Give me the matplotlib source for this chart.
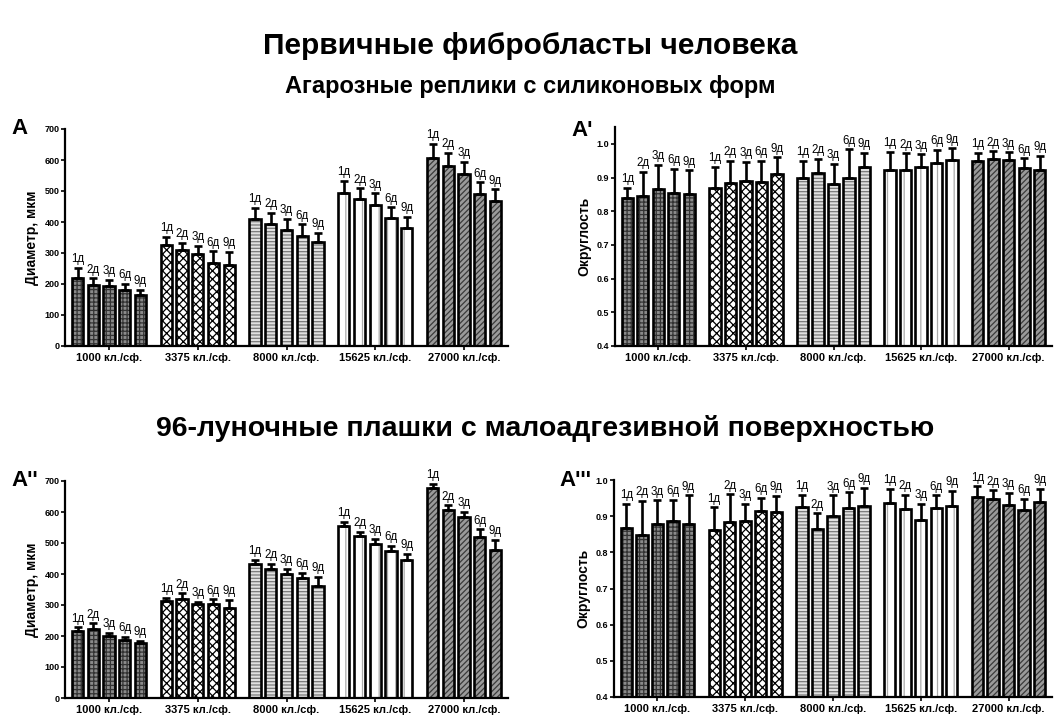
import numpy as np
import matplotlib
matplotlib.use("Agg")
import matplotlib.pyplot as plt

plt.rcParams['font.family'] = ['Liberation Sans', 'DejaVu Sans']
plt.rcParams['hatch.linewidth'] = 0.9

groups = ["1000 кл./сф.", "3375 кл./сф.", "8000 кл./сф.", "15625 кл./сф.", "27000 кл./сф."]
days = ["1д", "2д", "3д", "6д", "9д"]

# Panel A: diameter, agarose replicas
diam_agar = [[219, 197, 192, 182, 163], [325, 310, 296, 267, 262], [411, 395, 374, 354, 335],
             [495, 473, 456, 414, 382], [607, 581, 554, 490, 469]]
diam_agar_err = [[33, 21, 22, 18, 19], [27, 23, 28, 39, 41], [34, 35, 36, 38, 31],
                 [37, 36, 36, 34, 34], [45, 42, 41, 38, 37]]
# Panel A': roundness, agarose replicas
round_agar = [[0.839, 0.844, 0.866, 0.854, 0.850], [0.870, 0.883, 0.889, 0.888, 0.910],
              [0.899, 0.913, 0.882, 0.898, 0.930], [0.921, 0.921, 0.932, 0.942, 0.952],
              [0.950, 0.955, 0.952, 0.927, 0.923]]
round_agar_err = [[0.031, 0.073, 0.071, 0.071, 0.071], [0.061, 0.067, 0.058, 0.062, 0.050],
                  [0.051, 0.042, 0.059, 0.086, 0.044], [0.056, 0.051, 0.037, 0.041, 0.035],
                  [0.024, 0.023, 0.023, 0.030, 0.042]]
# Panel A'': diameter, 96-well plates
diam_plate = [[216, 221, 201, 188, 176], [313, 319, 302, 303, 289], [431, 416, 400, 386, 361],
              [555, 521, 497, 474, 446], [676, 607, 585, 518, 477]]
diam_plate_err = [[12, 20, 9, 9, 9], [11, 19, 8, 15, 28], [15, 17, 16, 17, 29],
                  [14, 15, 17, 17, 19], [15, 15, 15, 26, 33]]
# Panel A''': roundness, 96-well plates
round_plate = [[0.866, 0.849, 0.877, 0.888, 0.877], [0.861, 0.884, 0.887, 0.913, 0.912],
               [0.926, 0.864, 0.901, 0.922, 0.928], [0.936, 0.921, 0.889, 0.923, 0.928],
               [0.954, 0.947, 0.932, 0.917, 0.939]]
round_plate_err = [[0.069, 0.094, 0.067, 0.058, 0.081], [0.064, 0.077, 0.048, 0.038, 0.045],
                   [0.033, 0.044, 0.057, 0.044, 0.051], [0.039, 0.038, 0.046, 0.035, 0.042],
                   [0.029, 0.025, 0.033, 0.031, 0.037]]

# group styles: (facecolor, hatch, hatchcolor)
styles = [("#8a8a8a", "++++", "#333333"),
          ("white", "xxxx", "black"),
          ("#e0e0e0", "-----", "#7a7a7a"),
          ("white", "||", "#aaaaaa"),
          ("#9a9a9a", "//////", "#3a3a3a")]

W, H = 1055, 715
fig = plt.figure(figsize=(W / 100, H / 100), dpi=100)


def ax_at(l, t, r, b):
    return fig.add_axes([l / W, 1 - b / H, (r - l) / W, (b - t) / H])


GP = 5.65


def panel(ax, means, errs, ylim, yticks, yfmt, ylabel, letter, off):
    ymin, ymax = ylim
    span = ymax - ymin
    for g in range(5):
        fc, hatch, hc = styles[g]
        for j in range(5):
            x = g * GP + j
            m = means[g][j]
            e = errs[g][j]
            ax.bar(x, m - ymin, bottom=ymin, width=0.72, color=fc, hatch=hatch,
                   edgecolor=hc, linewidth=0, zorder=2)
            ax.bar(x, m - ymin, bottom=ymin, width=0.72, fill=False,
                   edgecolor="black", linewidth=1.9, zorder=3)
            ax.errorbar(x, m, yerr=[[0], [e]], fmt="none", ecolor="black",
                        elinewidth=1.9, capsize=3.2, capthick=1.9, zorder=4)
            ax.text(x, m + e + span * 0.012, days[j], ha="center", va="bottom",
                    fontsize=8.3, zorder=5)
    ax.set_xlim(-0.8, 4 * GP + 4.8)
    ax.set_ylim(ymin, ymax)
    ax.set_yticks(yticks)
    ax.set_yticklabels([yfmt(v) for v in yticks], fontsize=6.5, fontweight="bold")
    ax.set_xticks([g * GP + 2 for g in range(5)])
    ax.set_xticklabels(groups, fontsize=8, fontweight="bold")
    ax.tick_params(axis="y", length=3, width=1.2, pad=1)
    ax.tick_params(axis="x", length=3, width=1.2, pad=2)
    for s in ("top", "right"):
        ax.spines[s].set_visible(False)
    for s in ("left", "bottom"):
        ax.spines[s].set_linewidth(1.6)
    ax.set_ylabel(ylabel, fontsize=10, fontweight="bold", labelpad=4)
    ax.text(off[0], off[1], letter, transform=fig.transFigure, fontsize=16,
            fontweight="bold", ha="left", va="center")


axA = ax_at(65, 129, 508, 346)
panel(axA, diam_agar, diam_agar_err, (0, 700), list(range(0, 701, 100)),
      lambda v: f"{v:d}", "Диаметр, мкм", "A", (11 / W, 1 - 129 / H))

axB = ax_at(615, 127, 1052, 346)
panel(axB, round_agar, round_agar_err, (0.4, 1.05), [0.4, 0.5, 0.6, 0.7, 0.8, 0.9, 1.0],
      lambda v: f"{v:.1f}", "Округлость", "A'", (571 / W, 1 - 131 / H))

axC = ax_at(65, 481, 508, 698)
panel(axC, diam_plate, diam_plate_err, (0, 700), list(range(0, 701, 100)),
      lambda v: f"{v:d}", "Диаметр, мкм", "A''", (11 / W, 1 - 481 / H))

axD = ax_at(614, 480, 1052, 697)
panel(axD, round_plate, round_plate_err, (0.4, 1.0), [0.4, 0.5, 0.6, 0.7, 0.8, 0.9, 1.0],
      lambda v: f"{v:.1f}", "Округлость", "A'''", (559 / W, 1 - 480 / H))

fig.text(530 / W, 1 - 46 / H, "Первичные фибробласты человека", ha="center", va="center",
         fontsize=21.5, fontweight="bold")
fig.text(530 / W, 1 - 87 / H, "Агарозные реплики с силиконовых форм", ha="center", va="center",
         fontsize=17, fontweight="bold")
fig.text(545 / W, 1 - 428 / H, "96-луночные плашки с малоадгезивной поверхностью", ha="center",
         va="center", fontsize=20.5, fontweight="bold")

fig.savefig("out.png", dpi=100, facecolor="white")
